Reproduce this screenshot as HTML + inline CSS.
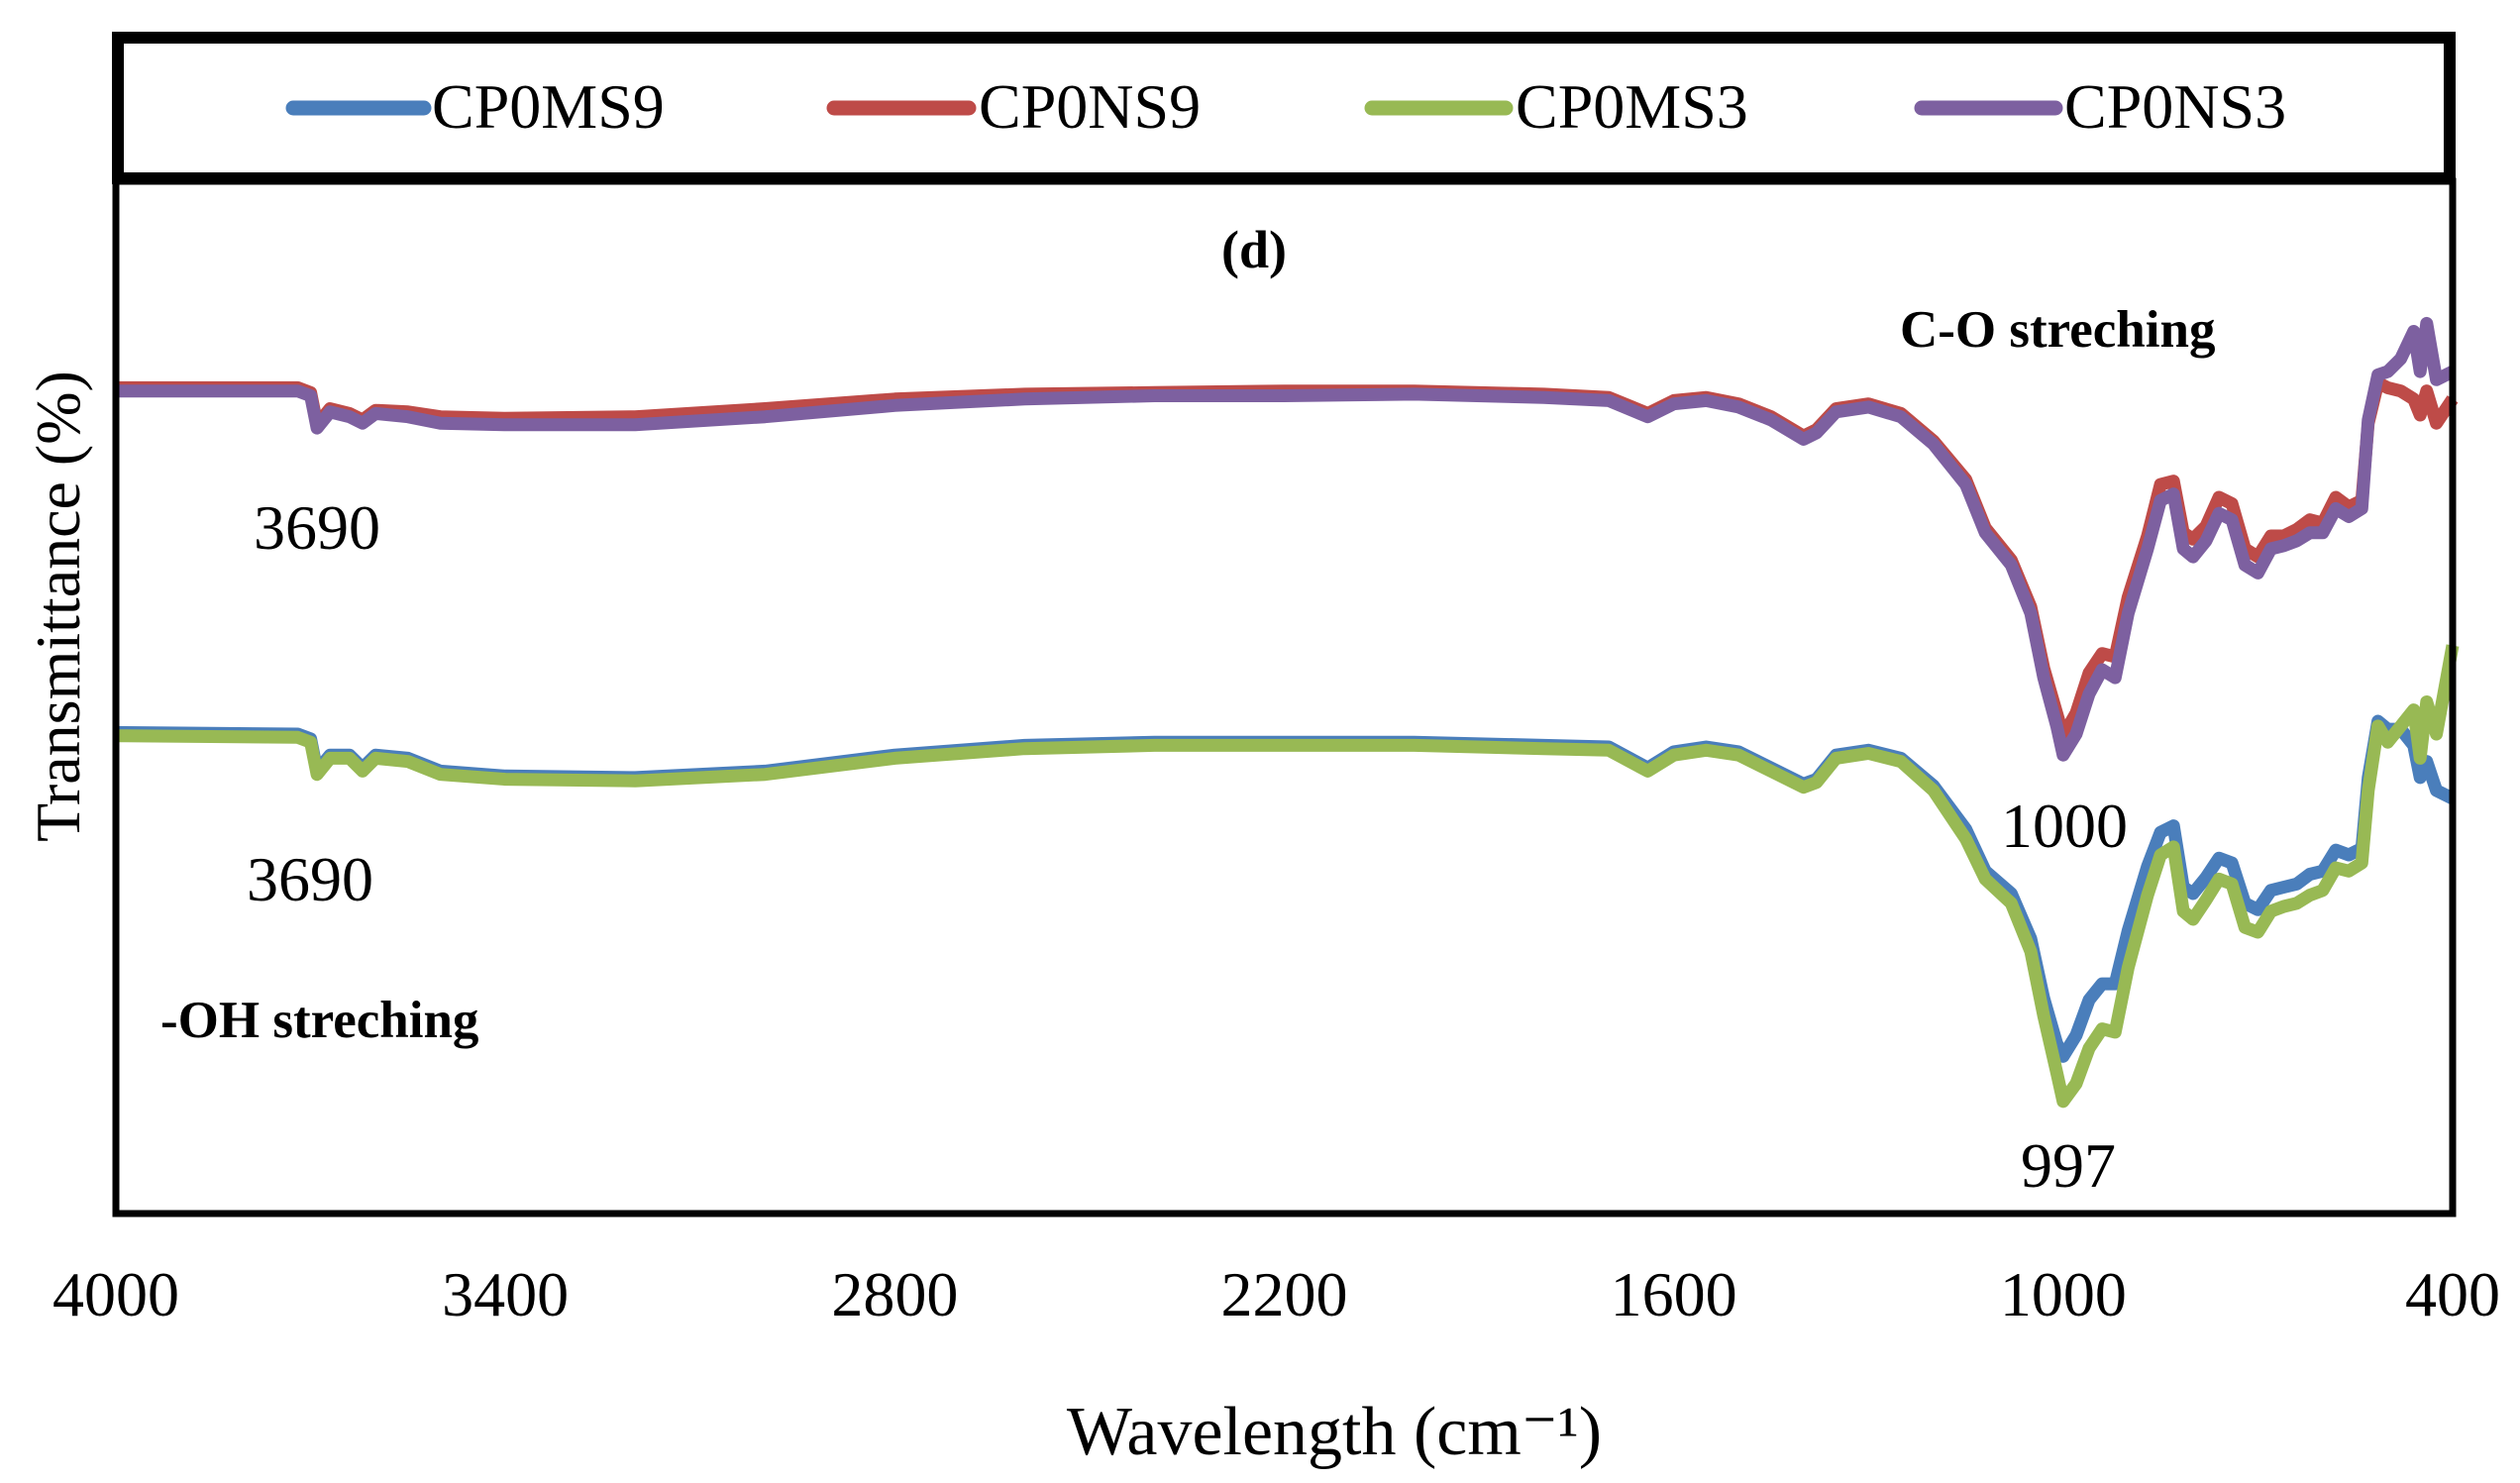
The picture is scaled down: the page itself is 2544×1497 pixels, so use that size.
<!DOCTYPE html>
<html><head><meta charset="utf-8"><style>
html,body{margin:0;padding:0;background:#fff;}
svg{display:block;font-family:"Liberation Serif",serif;}
</style></head><body>
<svg id="chart" width="2544" height="1497" viewBox="0 0 2544 1497">
<rect x="0" y="0" width="2544" height="1497" fill="#fff"/>
<g>
<rect x="119" y="38" width="2354" height="142" fill="none" stroke="#000" stroke-width="12"/>
<g><line x1="296" y1="109" x2="428" y2="109" stroke="#4a7ebb" stroke-width="15" stroke-linecap="round"/><text x="436" y="129" font-size="64">CP0MS9</text></g>
<g><line x1="842" y1="109" x2="978" y2="109" stroke="#be4b48" stroke-width="15" stroke-linecap="round"/><text x="988" y="129" font-size="64">CP0NS9</text></g>
<g><line x1="1385" y1="109" x2="1520" y2="109" stroke="#98b954" stroke-width="15" stroke-linecap="round"/><text x="1530" y="129" font-size="64">CP0MS3</text></g>
<g><line x1="1940" y1="109" x2="2075" y2="109" stroke="#7d60a0" stroke-width="15" stroke-linecap="round"/><text x="2084" y="129" font-size="64">CP0NS3</text></g>
</g>
<g id="series"></g>
<rect x="117" y="183" width="2359" height="1042" fill="none" stroke="#000" stroke-width="7"/>
<text x="1266" y="270" font-size="54" font-weight="bold" text-anchor="middle">(d)</text>
<text x="1918" y="350" font-size="53" font-weight="bold">C-O streching</text>
<text x="256" y="554" font-size="64">3690</text>
<text x="249" y="909" font-size="64">3690</text>
<text x="162" y="1047" font-size="53" font-weight="bold">-OH streching</text>
<text x="2020" y="855" font-size="64">1000</text>
<text x="2040" y="1198" font-size="64">997</text>
<g id="xticks"></g>
<text x="1347" y="1468" font-size="70" text-anchor="middle">Wavelength (cm⁻¹)</text>
<text transform="translate(80,612) rotate(-90)" font-size="64" text-anchor="middle">Transmittance (%)</text>
</svg>
<script>
const wavenumbers=[4000,3720,3700,3690,3670,3640,3620,3600,3550,3500,3400,3200,3000,2800,2600,2400,2200,2000,1800,1700,1640,1600,1550,1500,1450,1400,1380,1350,1300,1250,1200,1150,1120,1080,1050,1030,1010,1000,980,960,940,920,900,870,850,830,815,800,780,760,740,720,700,680,660,640,620,600,580,560,540,530,515,500,480,460,450,440,425,400];
const cp0ms9=[298,297,294,274,284,284,276,284,282,274,271,270,274,284,290,292,292,292,290,289,276,286,289,286,276,266,269,284,287,282,265,238,212,198,170,133,105,97,110,132,142,142,175,215,236,240,202,198,208,220,217,192,188,200,202,204,210,212,225,222,226,270,305,300,300,290,270,280,262,257];
const cp0ns9=[512,512,509,489,499,496,492,498,497,494,493,494,499,505,508,509,510,510,508,506,496,504,506,502,494,482,486,499,502,496,479,455,425,405,376,338,310,296,310,335,347,345,382,420,452,454,422,418,426,444,440,412,407,420,420,424,430,428,444,438,442,490,515,512,510,505,495,510,490,505];
const cp0ms3=[296,295,292,272,282,282,274,282,280,272,269,268,272,282,288,290,290,290,288,287,274,284,287,284,274,264,267,282,285,280,262,232,207,192,162,122,87,69,80,102,114,112,152,197,222,227,187,182,194,207,204,177,174,187,190,192,197,200,214,212,217,262,302,292,302,312,282,317,297,352];
const cp0ns3=[510,510,507,487,497,494,490,496,494,490,489,489,494,501,505,507,507,508,506,504,494,502,504,500,492,480,484,497,500,494,477,452,422,402,372,332,302,284,297,322,337,332,372,412,442,446,412,407,417,434,430,402,397,412,414,417,422,422,437,432,437,492,520,522,530,547,522,552,517,522];
const xTickLabels=["4000","3400","2800","2200","1600","1000","400"];
const xTickValues=[4000,3400,2800,2200,1600,1000,400];
const seriesNames=["cp0ms9","cp0ns9","cp0ms3","cp0ns3"];
const seriesData=[cp0ms9,cp0ns9,cp0ms3,cp0ns3];
const colors=["#4a7ebb","#be4b48","#98b954","#7d60a0"];
const X0=117,X1=2476,Y0=1224,Y1=180;
function xs(w){return X0+(4000-w)/(4000-400)*(X1-X0);}
function ys(v){return Y0-v/642*(Y0-Y1);}
const NS="http://www.w3.org/2000/svg";
const g=document.getElementById('series');
seriesData.forEach((arr,i)=>{
  const p=document.createElementNS(NS,'path');
  let d='';
  arr.forEach((v,j)=>{d+=(j?'L':'M')+xs(wavenumbers[j]).toFixed(1)+','+ys(v).toFixed(1);});
  p.setAttribute('d',d);
  p.setAttribute('fill','none');
  p.setAttribute('stroke',colors[i]);
  p.setAttribute('stroke-width','13');
  p.setAttribute('stroke-linejoin','round');
  
  
  g.appendChild(p);
});
const xt=document.getElementById('xticks');
xTickValues.forEach((w,i)=>{
  const t=document.createElementNS(NS,'text');
  t.setAttribute('x',xs(w));
  t.setAttribute('y',1328);
  t.setAttribute('font-size','64');
  t.setAttribute('text-anchor','middle');
  t.textContent=xTickLabels[i];
  
  
  xt.appendChild(t);
});
</script>
</body></html>
